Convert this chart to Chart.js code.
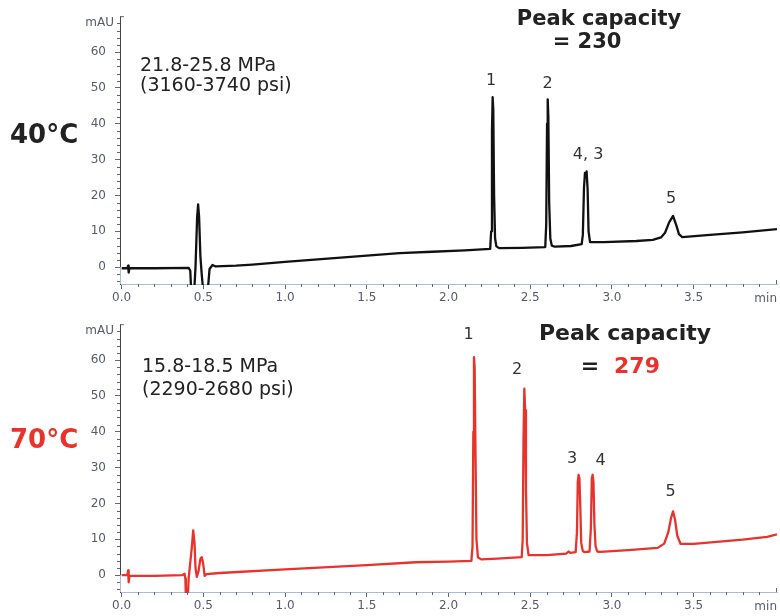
<!DOCTYPE html>
<html>
<head>
<meta charset="utf-8">
<script src="https://cdn.jsdelivr.net/npm/chart.js@4.4.1/dist/chart.umd.min.js"></script>
<style>
  body { margin: 0; background: #fff; }
  .panel { position: absolute; left: 0; width: 780px; height: 308px; }
</style>
</head>
<body>
<div class="panel" style="top:0"><canvas id="chart40"></canvas></div>
<div class="panel" style="top:308px"><canvas id="chart70"></canvas></div>
<script>
// retention time (min) / absorbance (mAU)
var time40 = [0.00, 0.035, 0.04, 0.043, 0.048, 0.20, 0.41, 0.42, 0.425, 0.445, 0.452, 0.462, 0.468, 0.474, 0.482, 0.49, 0.498, 0.528, 0.538, 0.556, 0.575, 0.7, 0.8, 1.0, 1.3, 1.7, 1.9, 2.1, 2.255, 2.261, 2.266, 2.270, 2.274, 2.279, 2.285, 2.293, 2.31, 2.45, 2.592, 2.598, 2.603, 2.607, 2.611, 2.616, 2.623, 2.632, 2.65, 2.75, 2.815, 2.822, 2.829, 2.835, 2.84, 2.845, 2.851, 2.857, 2.866, 2.95, 3.15, 3.25, 3.3, 3.325, 3.35, 3.374, 3.395, 3.41, 3.43, 3.6, 3.8, 4.01];
var abs40 = [-0.3, -0.3, 0.4, -1.5, -0.3, -0.3, -0.2, -1, -6, -6, 0, 14, 17.5, 14, 3, -2, -6, -6, -0.5, 0.6, 0.2, 0.4, 0.7, 1.5, 2.5, 3.9, 4.3, 4.7, 5.1, 10, 38, 47.4, 44, 20, 8, 5.8, 5.3, 5.4, 5.6, 12, 40, 46.8, 42, 18, 8, 6, 5.7, 5.9, 6.4, 9, 22, 26.3, 25.4, 26.7, 22, 10, 7, 7.0, 7.3, 7.6, 8.3, 9.6, 12.5, 14.3, 11.5, 9.2, 8.4, 9, 9.7, 10.6];

var time70 = [0.00, 0.035, 0.04, 0.043, 0.048, 0.2, 0.37, 0.385, 0.39, 0.393, 0.405, 0.41, 0.43, 0.438, 0.446, 0.452, 0.46, 0.47, 0.482, 0.49, 0.498, 0.508, 0.52, 0.6, 1.0, 1.5, 1.8, 2.0, 2.14, 2.147, 2.152, 2.156, 2.16, 2.165, 2.171, 2.18, 2.2, 2.3, 2.448, 2.454, 2.459, 2.464, 2.469, 2.474, 2.48, 2.49, 2.6, 2.72, 2.735, 2.745, 2.778, 2.786, 2.791, 2.796, 2.801, 2.806, 2.812, 2.822, 2.835, 2.863, 2.871, 2.877, 2.882, 2.887, 2.893, 2.9, 2.91, 2.93, 3.1, 3.28, 3.32, 3.345, 3.362, 3.374, 3.386, 3.4, 3.42, 3.5, 3.8, 3.95, 4.01];
var abs70 = [0.0, 0.0, 1.3, -2, -0.2, -0.2, 0.0, 0.4, -1, -6, -6, -1, 8, 12.5, 9, 2, -0.5, 1, 4.5, 5, 3.5, -0.2, 0.3, 0.6, 1.6, 2.8, 3.6, 3.8, 4.0, 8, 40, 60.8, 58, 35, 10, 5, 4.4, 4.6, 5.0, 10, 38, 52, 46, 24, 9, 5.6, 5.6, 6.0, 6.6, 6.2, 6.4, 12, 26, 28, 27, 20, 9, 6.7, 6.4, 6.6, 13, 27, 28, 26, 14, 8, 6.6, 6.5, 7.0, 7.6, 8.8, 12, 16, 17.8, 15.5, 11, 8.7, 8.7, 9.9, 10.7, 11.4];

var timeTicks = [0, 0.5, 1.0, 1.5, 2.0, 2.5, 3.0, 3.5];
var absTicks = [0, 10, 20, 30, 40, 50, 60];

var peaks40 = ['1', '2', '4, 3', '5'];
var peaks70 = ['1', '2', '3', '4', '5'];

var RED = '#e8322b';
var INK = '#222';

function toPoints(t, a) {
  var pts = [];
  for (var i = 0; i < t.length; i++) pts.push({x: t[i], y: a[i]});
  return pts;
}

// minor ticks, axis details and the text notes
var chromDecor = {
  id: 'chromDecor',
  afterDraw: function(chart, args, opts) {
    var ctx = chart.ctx, xs = chart.scales.x, ys = chart.scales.y, area = chart.chartArea;
    ctx.save();
    ctx.lineWidth = 1;
    ctx.strokeStyle = '#666';
    ctx.beginPath();
    for (var v = -4; v <= 70; v += 2) {
      if (v % 10 === 0) continue;
      var py = Math.round(ys.getPixelForValue(v)) + 0.5;
      ctx.moveTo(area.left - 3, py); ctx.lineTo(area.left, py);
    }
    for (var i = 1; i < 40; i++) {
      if (i % 5 === 0) continue;
      var px = Math.round(xs.getPixelForValue(i / 10)) + 0.5;
      ctx.moveTo(px, area.bottom); ctx.lineTo(px, area.bottom + 3);
    }
    ctx.moveTo(area.left, area.top + 0.5); ctx.lineTo(area.left + 4, area.top + 0.5);
    ctx.moveTo(area.right - 0.5, area.bottom); ctx.lineTo(area.right - 0.5, area.bottom - 4);
    ctx.stroke();

    // lower part of y axis is light blue
    ctx.strokeStyle = '#a9badf';
    ctx.beginPath();
    ctx.moveTo(area.left + 0.5, ys.getPixelForValue(0));
    ctx.lineTo(area.left + 0.5, area.bottom);
    ctx.stroke();

    ctx.fillStyle = '#555b6b';
    ctx.font = '12px "DejaVu Sans"';
    ctx.textBaseline = 'middle';
    ctx.textAlign = 'right';
    ctx.fillText('mAU', area.left - 6, area.top + 7);
    ctx.fillText('min', area.right, area.bottom + 15);

    // peak numbers in data coordinates
    ctx.fillStyle = '#333';
    ctx.font = '16px "DejaVu Sans"';
    ctx.textAlign = 'center';
    opts.peaks.forEach(function(name, k) {
      var p = opts.peakAt[k];
      ctx.fillText(name, xs.getPixelForValue(p[0]), ys.getPixelForValue(p[1]));
    });

    ctx.textBaseline = 'alphabetic';
    opts.notes.forEach(function(n) {
      ctx.font = n.font;
      ctx.fillStyle = n.color || INK;
      ctx.textAlign = n.align || 'left';
      ctx.fillText(n.text, n.x, n.y);
    });
    ctx.restore();
  }
};

function makeChart(id, points, color, topPad, peaks, peakAt, notes) {
  return new Chart(document.getElementById(id), {
    type: 'line',
    data: {
      datasets: [{
        data: points,
        borderColor: color,
        borderWidth: 2.3,
        pointRadius: 0,
        tension: 0,
        borderJoinStyle: 'round',
        clip: {left: 0, top: 0, right: 0, bottom: 1}
      }]
    },
    options: {
      responsive: true,
      maintainAspectRatio: false,
      animation: false,
      layout: {padding: {top: topPad, right: 3, left: 0, bottom: 0}},
      plugins: {
        legend: {display: false},
        tooltip: {enabled: false},
        chromDecor: {peaks: peaks, peakAt: peakAt, notes: notes}
      },
      scales: {
        x: {
          type: 'linear',
          min: -0.01,
          max: 4.01,
          afterBuildTicks: function(s) { s.ticks = timeTicks.map(function(v) { return {value: v}; }); },
          afterFit: function(s) { s.height = 24; },
          border: {color: '#a9badf', width: 1},
          grid: {drawOnChartArea: false, tickLength: 5, color: '#666'},
          ticks: {
            padding: 2, color: '#555b6b', maxRotation: 0, autoSkip: false,
            font: {family: 'DejaVu Sans', size: 12},
            callback: function(v) { return v.toFixed(1); }
          }
        },
        y: {
          min: -4.7,
          max: 70,
          afterBuildTicks: function(s) { s.ticks = absTicks.map(function(v) { return {value: v}; }); },
          afterFit: function(s) { s.width = 120; },
          border: {color: '#444', width: 1},
          grid: {drawOnChartArea: false, tickLength: 5, color: '#666'},
          ticks: {
            padding: 9, color: '#555b6b',
            font: {family: 'DejaVu Sans', size: 12},
            callback: function(v) { return String(v); }
          }
        }
      }
    },
    plugins: [chromDecor]
  });
}

var normal = '19px "DejaVu Sans"';

makeChart('chart40', toPoints(time40, abs40), '#111', 13, peaks40,
  [[2.26, 52], [2.606, 51], [2.854, 31.4], [3.362, 19]],
  [
    {text: '21.8-25.8 MPa', x: 140, y: 71, font: normal},
    {text: '(3160-3740 psi)', x: 140, y: 91, font: normal},
    {text: 'Peak capacity', x: 599, y: 25, font: 'bold 21px "DejaVu Sans"', align: 'center'},
    {text: '= 230', x: 587, y: 48, font: 'bold 21px "DejaVu Sans"', align: 'center'},
    {text: '40°C', x: 10, y: 143, font: 'bold 26px "DejaVu Sans"'}
  ]);

makeChart('chart70', toPoints(time70, abs70), RED, 14, peaks70,
  [[2.123, 66.9], [2.42, 57.2], [2.756, 32.5], [2.931, 32], [3.359, 23.3]],
  [
    {text: '15.8-18.5 MPa', x: 142, y: 64, font: normal},
    {text: '(2290-2680 psi)', x: 142, y: 87, font: normal},
    {text: 'Peak capacity', x: 625, y: 32, font: 'bold 22px "DejaVu Sans"', align: 'center'},
    {text: '=', x: 590, y: 65, font: 'bold 22px "DejaVu Sans"', align: 'center'},
    {text: '279', x: 637, y: 65, font: 'bold 22px "DejaVu Sans"', align: 'center', color: RED},
    {text: '70°C', x: 10, y: 140, font: 'bold 26px "DejaVu Sans"', color: RED}
  ]);
</script>
</body>
</html>
